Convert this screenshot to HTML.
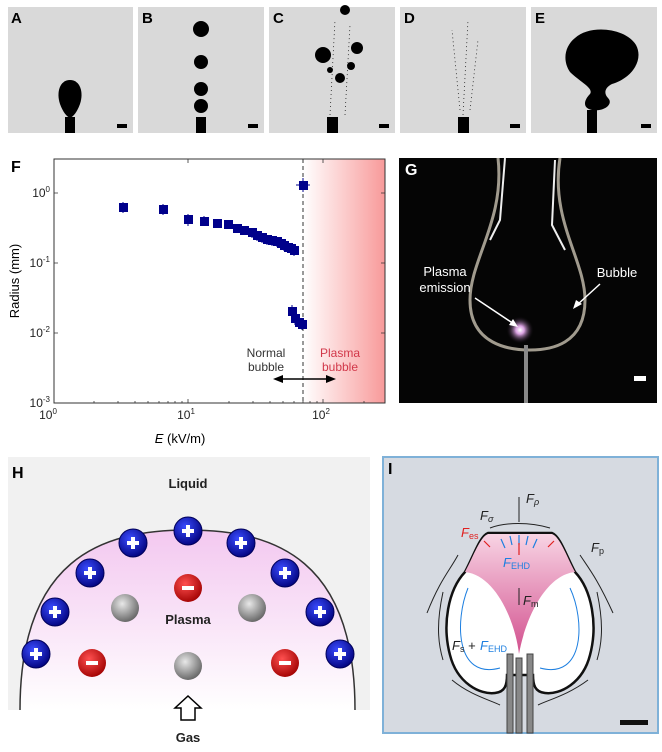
<!DOCTYPE html><html><head><style>body{margin:0;background:#fff}svg{display:block;font-family:"Liberation Sans",Arial,sans-serif}</style></head><body>
<svg width="662" height="752" viewBox="0 0 662 752" xmlns="http://www.w3.org/2000/svg">
<defs>
<linearGradient id="red" x1="0" x2="1"><stop offset="0" stop-color="#fff"/><stop offset="1" stop-color="#f89a9a"/></linearGradient>
<linearGradient id="hbg" x1="0" y1="0" x2="0" y2="1"><stop offset="0" stop-color="#f3c8f0"/><stop offset="1" stop-color="#fff"/></linearGradient>
<radialGradient id="bl" cx="0.4" cy="0.35" r="0.7"><stop offset="0" stop-color="#3a4cff"/><stop offset="1" stop-color="#00007a"/></radialGradient>
<radialGradient id="rd" cx="0.4" cy="0.35" r="0.7"><stop offset="0" stop-color="#ff5050"/><stop offset="1" stop-color="#a00000"/></radialGradient>
<radialGradient id="gy" cx="0.4" cy="0.35" r="0.7"><stop offset="0" stop-color="#e8e8e8"/><stop offset="1" stop-color="#606060"/></radialGradient>
<linearGradient id="pk" x1="0" y1="0" x2="0" y2="1"><stop offset="0" stop-color="#f8d4e4"/><stop offset="1" stop-color="#d2508e"/></linearGradient>
<radialGradient id="glow" cx="0.5" cy="0.5" r="0.5"><stop offset="0" stop-color="#fff"/><stop offset="0.3" stop-color="#d8a0e0"/><stop offset="1" stop-color="#000" stop-opacity="0"/></radialGradient>
</defs>
<!-- A-E -->
<g fill="#d9d9d9"><rect x="8" y="7" width="125" height="126"/><rect x="138" y="7" width="126" height="126"/><rect x="269" y="7" width="126" height="126"/><rect x="400" y="7" width="126" height="126"/><rect x="531" y="7" width="126" height="126"/></g>
<g font-weight="bold" font-size="15"><text x="11" y="23">A</text><text x="142" y="23">B</text><text x="273" y="23">C</text><text x="404" y="23">D</text><text x="535" y="23">E</text></g>
<g fill="#000">
<rect x="65" y="117" width="10" height="16"/><path d="M70 80 C80 80 84 92 80 104 C77 112 74 116 70 118 C66 116 63 112 60 104 C56 92 60 80 70 80Z"/>
<rect x="117" y="124" width="10" height="4"/><rect x="248" y="124" width="10" height="4"/><rect x="379" y="124" width="10" height="4"/><rect x="510" y="124" width="10" height="4"/><rect x="641" y="124" width="10" height="4"/>
<rect x="196" y="117" width="10" height="16"/><circle cx="201" cy="29" r="8"/><circle cx="201" cy="62" r="7"/><circle cx="201" cy="89" r="7"/><circle cx="201" cy="106" r="7"/>
<rect x="327" y="117" width="11" height="16"/><circle cx="323" cy="55" r="8"/><circle cx="357" cy="48" r="6"/><circle cx="340" cy="78" r="5"/><circle cx="351" cy="66" r="4"/><circle cx="345" cy="10" r="5"/><circle cx="330" cy="70" r="3"/>
<rect x="458" y="117" width="11" height="16"/>
<rect x="587" y="110" width="10" height="23"/><path d="M575 38 C590 24 626 28 636 45 C644 60 632 78 612 84 C604 88 604 94 608 98 C614 104 604 112 592 110 C582 108 584 100 590 94 C594 88 580 82 570 72 C562 60 565 46 575 38Z"/>
</g>
<g stroke="#222" stroke-width="0.8" stroke-dasharray="1 3" fill="none"><path d="M330 115 L335 20 M345 115 L350 25 M463 115 L468 20 M460 110 L452 30 M470 110 L478 40"/></g>
<!-- F -->
<rect x="303" y="159" width="82" height="244" fill="url(#red)"/>
<rect x="54" y="159" width="331" height="244" fill="none" stroke="#333" stroke-width="1"/>
<line x1="303" y1="159" x2="303" y2="403" stroke="#333" stroke-dasharray="4 3"/>
<g stroke="#333" stroke-width="0.8">
<path d="M54 193h4M54 263h4M54 333h4M385 193h-4M385 263h-4M385 333h-4M188 403v-4M323 403v-4M188 159v4M323 159v4"/>
<path d="M94 403v-2M118 403v-2M135 403v-2M148 403v-2M159 403v-2M168 403v-2M175 403v-2M182 403v-2M229 403v-2M253 403v-2M270 403v-2M283 403v-2M294 403v-2M303 403v-2M310 403v-2M317 403v-2M364 403v-2"/>
</g>
<g font-size="12" fill="#222" text-anchor="middle"><text x="48" y="419">10<tspan font-size="8" dy="-5">0</tspan></text><text x="186" y="419">10<tspan font-size="8" dy="-5">1</tspan></text><text x="321" y="419">10<tspan font-size="8" dy="-5">2</tspan></text></g>
<g font-size="12" fill="#222" text-anchor="end"><text x="50" y="197">10<tspan font-size="8" dy="-5">0</tspan></text><text x="50" y="267">10<tspan font-size="8" dy="-5">-1</tspan></text><text x="50" y="337">10<tspan font-size="8" dy="-5">-2</tspan></text><text x="50" y="407">10<tspan font-size="8" dy="-5">-3</tspan></text></g>
<text x="180" y="443" font-size="13" text-anchor="middle"><tspan font-style="italic">E</tspan> (kV/m)</text>
<text transform="translate(19 281) rotate(-90)" font-size="13" text-anchor="middle">Radius (mm)</text>
<text x="11" y="172" font-size="16" font-weight="bold">F</text>
<g fill="#00008b" stroke="#00008b">
<g stroke-width="1"><path d="M123 202v11M163 204v11M188 214v12M204 216v9M217 219v6M228 220v8M237 224v8M244 226v9M252 228v10M257 231v10M262 233v10M267 235v10M272 236v10M277 237v10M281 239v10M284 241v10M288 243v10M291 244v10M294 246v10M292 305v14M295 313v12M299 318v10M302 320v10M303 178v14M296 185h14"/></g>
<g stroke="none">
<rect x="119" y="203" width="9" height="9"/><rect x="159" y="205" width="9" height="9"/><rect x="184" y="215" width="9" height="9"/><rect x="200" y="217" width="9" height="9"/><rect x="213" y="219" width="9" height="9"/><rect x="224" y="220" width="9" height="9"/><rect x="233" y="224" width="9" height="9"/><rect x="240" y="226" width="9" height="9"/><rect x="248" y="228" width="9" height="9"/><rect x="253" y="231" width="9" height="9"/><rect x="258" y="233" width="9" height="9"/><rect x="263" y="235" width="9" height="9"/><rect x="268" y="236" width="9" height="9"/><rect x="273" y="237" width="9" height="9"/><rect x="277" y="239" width="9" height="9"/><rect x="280" y="241" width="9" height="9"/><rect x="284" y="243" width="9" height="9"/><rect x="287" y="244" width="9" height="9"/><rect x="290" y="246" width="9" height="9"/>
<rect x="288" y="307" width="9" height="9"/><rect x="291" y="314" width="9" height="9"/><rect x="295" y="318" width="9" height="9"/><rect x="298" y="320" width="9" height="9"/><rect x="299" y="181" width="9" height="9"/>
</g></g>
<g font-size="12" text-anchor="middle"><text x="266" y="357" fill="#333">Normal</text><text x="266" y="371" fill="#333">bubble</text><text x="340" y="357" fill="#d2384a">Plasma</text><text x="340" y="371" fill="#d2384a">bubble</text></g>
<g stroke="#000" stroke-width="1.5"><line x1="280" y1="379" x2="330" y2="379"/></g>
<path d="M273 379l10-4v8zM336 379l-10-4v8z" fill="#000"/>
<!-- G -->
<rect x="399" y="158" width="258" height="245" fill="#050505"/>
<text x="405" y="175" font-size="16" font-weight="bold" fill="#fff">G</text>
<path d="M498 158 C505 220 470 260 470 300 C470 345 510 350 530 350 C550 350 585 345 585 300 C585 260 550 220 560 158" fill="none" stroke="#c8c0b0" stroke-width="3" opacity="0.8"/>
<path d="M505 158 L500 220 L490 240 M555 160 L552 225 L565 250" stroke="#eee" stroke-width="2" fill="none"/>
<circle cx="520" cy="330" r="14" fill="url(#glow)"/>
<rect x="524" y="345" width="4" height="58" fill="#888"/>
<g fill="#fff" font-size="13" text-anchor="middle"><text x="445" y="276">Plasma</text><text x="445" y="292">emission</text><text x="617" y="277">Bubble</text></g>
<path d="M475 298 L514 324 M600 284 L577 305" stroke="#fff" stroke-width="1.5"/>
<path d="M518 327l-9-2 4-6zM573 309l3-9 6 4z" fill="#fff"/>
<rect x="634" y="376" width="12" height="5" fill="#fff"/>
<!-- H -->
<rect x="8" y="457" width="362" height="253" fill="#f1f1f1"/>
<path d="M20 710 C20 560 100 530 188 530 C276 530 355 560 355 710Z" fill="url(#hbg)"/>
<path d="M20 710 C20 560 100 530 188 530 C276 530 355 560 355 710" fill="none" stroke="#333" stroke-width="1.5"/>
<text x="12" y="478" font-size="16" font-weight="bold">H</text>
<g font-size="13" font-weight="bold" fill="#222" text-anchor="middle"><text x="188" y="488">Liquid</text><text x="188" y="624">Plasma</text><text x="188" y="742">Gas</text></g>
<path d="M181 720v-12h-6l13-12 13 12h-6v12z" fill="#fff" stroke="#000" stroke-width="1.5"/>
<g fill="url(#bl)" stroke="#00005a"><circle cx="188" cy="531" r="14"/><circle cx="241" cy="543" r="14"/><circle cx="285" cy="573" r="14"/><circle cx="320" cy="612" r="14"/><circle cx="340" cy="654" r="14"/><circle cx="36" cy="654" r="14"/><circle cx="55" cy="612" r="14"/><circle cx="90" cy="573" r="14"/><circle cx="133" cy="543" r="14"/></g>
<g fill="#fff"><path d="M182 529h12v4h-12zM186 525h4v12h-4z"/><path d="M235 541h12v4h-12zM239 537h4v12h-4z"/><path d="M279 571h12v4h-12zM283 567h4v12h-4z"/><path d="M314 610h12v4h-12zM318 606h4v12h-4z"/><path d="M334 652h12v4h-12zM338 648h4v12h-4z"/><path d="M30 652h12v4h-12zM34 648h4v12h-4z"/><path d="M49 610h12v4h-12zM53 606h4v12h-4z"/><path d="M84 571h12v4h-12zM88 567h4v12h-4z"/><path d="M127 541h12v4h-12zM131 537h4v12h-4z"/></g>
<g fill="url(#rd)"><circle cx="188" cy="588" r="14"/><circle cx="92" cy="663" r="14"/><circle cx="285" cy="663" r="14"/></g>
<g fill="#fff"><rect x="182" y="586" width="12" height="4"/><rect x="86" y="661" width="12" height="4"/><rect x="279" y="661" width="12" height="4"/></g>
<g fill="url(#gy)"><circle cx="125" cy="608" r="14"/><circle cx="252" cy="608" r="14"/><circle cx="188" cy="666" r="14"/></g>
<!-- I -->
<rect x="383" y="457" width="275" height="276" fill="#d6dae1" stroke="#7fb1d8" stroke-width="2"/>
<text x="388" y="474" font-size="16" font-weight="bold">I</text>
<path d="M488 533 L552 533 C560 536 566 555 575 572 C592 590 598 625 590 655 C583 683 560 695 545 693 C535 692 533 685 533 675 L507 675 C507 685 505 692 495 693 C480 695 457 683 450 655 C442 625 448 590 465 572 C474 555 480 536 488 533Z" fill="#fff" stroke="#111" stroke-width="2.5"/>
<path d="M488 534 L552 534 C560 537 566 555 575 572 C545 575 525 620 519 654 C515 620 495 575 465 572 C474 555 480 537 488 534Z" fill="url(#pk)"/>
<g fill="#888" stroke="#444"><rect x="507" y="654" width="6" height="79"/><rect x="516" y="658" width="6" height="75"/><rect x="527" y="654" width="6" height="79"/></g>
<g stroke="#1d7fe0" stroke-width="1" fill="none"><path d="M468 588 C455 620 455 680 500 668 M570 588 C585 620 585 680 540 668"/></g>
<g stroke="#222" stroke-width="1" fill="none"><path d="M427 613 C440 580 450 570 458 555 M613 613 C598 580 590 570 580 555 M443 592 C437 620 437 640 443 660 M597 592 C603 620 603 640 597 660 M452 680 C470 695 490 700 500 705 M588 680 C568 695 548 700 538 705 M519 522 V497 M519 605 V588 M490 528 C505 522 530 522 550 528"/></g>
<g stroke="#1d7fe0" stroke-width="1.2"><path d="M505 548l-4-9M512 545l-2-9M519 545v-10M526 545l2-9M533 548l4-9"/></g>
<g stroke="#e02020" stroke-width="1.2"><path d="M490 547l-6-6M519 555v-12M548 547l6-6"/></g>
<g font-style="italic" font-size="13"><text x="526" y="503" fill="#222">F<tspan font-size="9" dy="2">ρ</tspan></text><text x="480" y="520" fill="#222">F<tspan font-size="9" dy="2">σ</tspan></text><text x="461" y="537" fill="#e02020">F<tspan font-size="9" font-style="normal" dy="2">es</tspan></text><text x="503" y="567" fill="#1d7fe0">F<tspan font-size="9" font-style="normal" dy="2">EHD</tspan></text><text x="591" y="552" fill="#222">F<tspan font-size="9" font-style="normal" dy="2">p</tspan></text><text x="523" y="605" fill="#222">F<tspan font-size="9" font-style="normal" dy="2">m</tspan></text><text x="452" y="650" fill="#222">F<tspan font-size="9" font-style="normal" dy="2">s</tspan><tspan font-style="normal" dy="-2"> + </tspan></text><text x="480" y="650" fill="#1d7fe0">F<tspan font-size="9" font-style="normal" dy="2">EHD</tspan></text></g>
<rect x="620" y="720" width="28" height="5" fill="#111"/>
</svg>
</body></html>
